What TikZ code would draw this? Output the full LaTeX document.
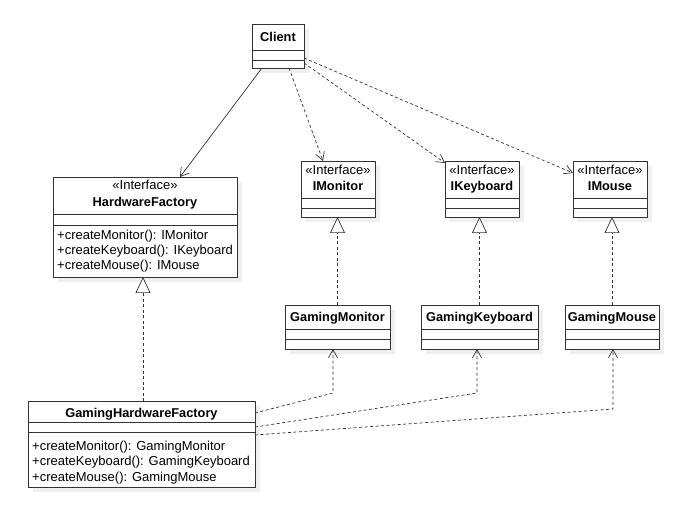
\documentclass[tikz,border=0pt]{standalone}
\usepackage{fontspec}
\setmainfont{Liberation Sans}
\usetikzlibrary{arrows.meta}

\definecolor{inkc}{HTML}{333333}
\definecolor{shadowc}{HTML}{EFEFEF}

\tikzset{
  classbox/.style={draw=inkc, line width=0.9pt, fill=white, inner sep=0pt, outer sep=0pt, rectangle},
  classline/.style={draw=inkc, line width=0.9pt},
  txt/.style={inner sep=0pt, anchor=base, text=black, font=\fontsize{13}{15}\selectfont},
  cname/.style={txt, font=\fontsize{12.8}{15}\selectfont\bfseries},
  member/.style={txt, anchor=base west},
  assoc/.style={draw=inkc, line width=0.7pt, -{Straight Barb[length=8pt,width=10pt]}},
  depend/.style={draw=inkc, line width=0.7pt, dash pattern=on 3pt off 2.5pt, -{Straight Barb[length=8pt,width=9pt]}},
  realize/.style={draw=inkc, line width=0.7pt, dash pattern=on 3pt off 2.5pt, -{Triangle[open,length=16pt,width=15pt,fill=white]}}
}

% class frame: name, x1, y1, x2, y2, first divider, second divider
\newcommand\umlframe[7]{%
  \fill[shadowc] ({#2+5},{#3+5}) rectangle ({#4+5},{#5+5});
  \node[classbox, minimum width={#4-#2}, minimum height={#5-#3}] (#1) at ({(#2+#4)/2},{(#3+#5)/2}) {};
  \draw[classline] (#2,#6) -- (#4,#6);
  \draw[classline] (#2,#7) -- (#4,#7);
}

\begin{document}
\begin{tikzpicture}[x=1pt,y=-1pt]
\useasboundingbox[fill=white] (0,0) rectangle (686,505);

% classes
\umlframe{client}{252}{24}{304}{68}{50}{60}
\node[cname] (clientn) at (278,42) {Client};

\umlframe{hf}{53}{177}{237}{277}{214}{225}
\node[txt] (hfs) at (145,190) {«Interface»};
\node[cname] (hfn) at (145,206.5) {HardwareFactory};
\node[member] (hfm1) at (57,239.5) {+createMonitor(): IMonitor};
\node[member] (hfm2) at (57,254.5) {+createKeyboard(): IKeyboard};
\node[member] (hfm3) at (57,269.5) {+createMouse(): IMouse};

\umlframe{imon}{301}{161}{375}{217}{198}{208}
\node[txt] (imons) at (338,175) {«Interface»};
\node[cname] (imonn) at (338,191) {IMonitor};

\umlframe{ikb}{445}{161}{519}{217}{198}{208}
\node[txt] (ikbs) at (482,175) {«Interface»};
\node[cname] (ikbn) at (482,191) {IKeyboard};

\umlframe{ims}{573}{161}{647}{217}{198}{208}
\node[txt] (imss) at (610,175) {«Interface»};
\node[cname] (imsn) at (610,191) {IMouse};

\umlframe{gmon}{285}{305}{390}{349}{329}{339}
\node[cname] (gmonn) at (337.5,321.5) {GamingMonitor};

\umlframe{gkb}{421}{305}{538}{349}{329}{339}
\node[cname] (gkbn) at (479.5,321.5) {GamingKeyboard};

\umlframe{gms}{565}{305}{659}{349}{329}{339}
\node[cname] (gmsn) at (612,321.5) {GamingMouse};

\umlframe{ghf}{28}{401}{255}{487}{422}{432}
\node[cname] (ghfn) at (141.5,417.5) {GamingHardwareFactory};
\node[member] (ghfm1) at (32,450) {+createMonitor(): GamingMonitor};
\node[member] (ghfm2) at (32,465.5) {+createKeyboard(): GamingKeyboard};
\node[member] (ghfm3) at (32,481) {+createMouse(): GamingMouse};

% client associations and dependencies
\draw[assoc] ([xshift=10pt]client.south west) -- ([xshift=127pt]hf.north west);
\draw[depend] ([xshift=37pt]client.south west) -- ([xshift=22pt]imon.north west);
\draw[depend] ([yshift=-39pt]client.north east) -- ([yshift=-2pt]ikb.north west);
\draw[depend] ([yshift=-34pt]client.north east) -- ([yshift=-12pt]ims.north west);

% realizations
\draw[realize] (ghf.north -| 143,0) -- (hf.south -| 143,0);
\draw[realize] (gmon.north) -- (gmon.north |- imon.south);
\draw[realize] (gkb.north) -- (gkb.north |- ikb.south);
\draw[realize] (gms.north) -- (gms.north |- ims.south);

% factory dependencies on the products
\draw[depend] ([yshift=-12pt]ghf.north east) -- ([xshift=48pt,yshift=-44pt]gmon.south west) -- ([xshift=48pt]gmon.south west);
\draw[depend] ([yshift=-26pt]ghf.north east) -- ([xshift=56pt,yshift=-44pt]gkb.south west) -- ([xshift=56pt]gkb.south west);
\draw[depend] ([yshift=-34pt]ghf.north east) -- ([xshift=48pt,yshift=-60pt]gms.south west) -- ([xshift=48pt]gms.south west);
\end{tikzpicture}
\end{document}
